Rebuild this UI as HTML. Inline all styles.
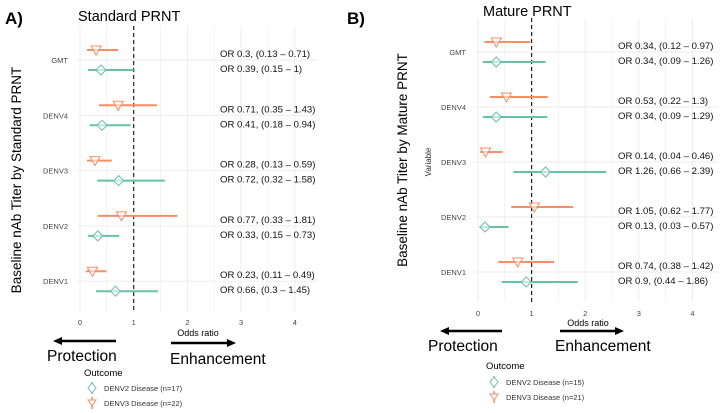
<!DOCTYPE html>
<html><head><meta charset="utf-8"><style>
body{margin:0;background:#fff;}
svg{display:block;font-family:"Liberation Sans",sans-serif;}
</style></head><body>
<svg id="chart" width="720" height="413" viewBox="0 0 720 413" xmlns="http://www.w3.org/2000/svg">
<g id="pa">
<text x="5" y="24" font-size="17" font-weight="bold">A)</text>
<text x="78" y="21" font-size="14.5">Standard PRNT</text>
<text transform="translate(21,180) rotate(-90)" text-anchor="middle" font-size="13.5">Baseline nAb Titer by Standard PRNT</text>
<text x="198" y="336" text-anchor="middle" font-size="9">Odds ratio</text>
<g><line x1="116" y1="341" x2="60" y2="341" stroke="#000" stroke-width="2.5"/><polygon points="53,341 62,337 62,345" fill="#000"/></g>
<g><line x1="171" y1="343" x2="229" y2="343" stroke="#000" stroke-width="2.5"/><polygon points="236,343 227,339 227,347" fill="#000"/></g>
<text x="47" y="361" font-size="15.5">Protection</text>
<text x="170" y="364" font-size="15.5">Enhancement</text>
<text x="84" y="376" font-size="9.5">Outcome</text>
<g><line x1="92" y1="382" x2="92" y2="394" stroke="#66c2a5" stroke-width="1.5"/><polygon points="92,383 96,388 92,393 88,388" fill="#fff" stroke="#66c2a5"/><text x="104" y="391" font-size="7.5" fill="#333">DENV2 Disease (n=17)</text></g>
<g><line x1="92" y1="397" x2="92" y2="409" stroke="#fc8d62" stroke-width="1.5"/><polygon points="88,400 96,400 92,406" fill="#fff" stroke="#fc8d62"/><text x="104" y="406" font-size="7.5" fill="#333">DENV3 Disease (n=22)</text></g>
</g>
<g id="pb">
<text x="347" y="24" font-size="17" font-weight="bold">B)</text>
<text x="483" y="16" font-size="14.5">Mature PRNT</text>
<text transform="translate(407,160) rotate(-90)" text-anchor="middle" font-size="13.5">Baseline nAb Titer by Mature PRNT</text>
<text transform="translate(431,162) rotate(-90)" text-anchor="middle" font-size="8" fill="#333">Variable</text>
<text x="588" y="326" text-anchor="middle" font-size="9">Odds ratio</text>
<g><line x1="502" y1="331" x2="447" y2="331" stroke="#000" stroke-width="2.5"/><polygon points="440,331 449,327 449,335" fill="#000"/></g>
<g><line x1="560" y1="331" x2="617" y2="331" stroke="#000" stroke-width="2.5"/><polygon points="624,331 615,327 615,335" fill="#000"/></g>
<text x="428" y="351" font-size="15.5">Protection</text>
<text x="555" y="351" font-size="15.5">Enhancement</text>
<text x="486" y="369" font-size="9.5">Outcome</text>
<g><line x1="494" y1="376" x2="494" y2="388" stroke="#66c2a5" stroke-width="1.5"/><polygon points="494,377 498,382 494,387 490,382" fill="#fff" stroke="#66c2a5"/><text x="506" y="385" font-size="7.5" fill="#333">DENV2 Disease (n=15)</text></g>
<g><line x1="494" y1="391" x2="494" y2="403" stroke="#fc8d62" stroke-width="1.5"/><polygon points="490,394 498,394 494,400" fill="#fff" stroke="#fc8d62"/><text x="506" y="400" font-size="7.5" fill="#333">DENV3 Disease (n=21)</text></g>
</g>
</svg>
<script>
const categories = ["GMT","DENV4","DENV3","DENV2","DENV1"];
const xTicks = [0,1,2,3,4];
// Panel A
const aDenv3Or = [0.3,0.71,0.28,0.77,0.23];
const aDenv3Lo = [0.13,0.35,0.13,0.33,0.11];
const aDenv3Hi = [0.71,1.43,0.59,1.81,0.49];
const aDenv2Or = [0.39,0.41,0.72,0.33,0.66];
const aDenv2Lo = [0.15,0.18,0.32,0.15,0.3];
const aDenv2Hi = [1,0.94,1.58,0.73,1.45];
// Panel B
const bDenv3Or = [0.34,0.53,0.14,1.05,0.74];
const bDenv3Lo = [0.12,0.22,0.04,0.62,0.38];
const bDenv3Hi = [0.97,1.3,0.46,1.77,1.42];
const bDenv2Or = [0.34,0.34,1.26,0.13,0.9];
const bDenv2Lo = [0.09,0.09,0.66,0.03,0.44];
const bDenv2Hi = [1.26,1.29,2.39,0.57,1.86];

const NS="http://www.w3.org/2000/svg";
function mk(parent,tag,attrs){const e=document.createElementNS(NS,tag);for(const k in attrs)e.setAttribute(k,attrs[k]);parent.appendChild(e);return e;}

function drawPanel(g,p,s3o,s3l,s3h,s2o,s2l,s2h){
  const x=v=>p.x0+v*p.sc;
  const y=i=>p.y0+i*p.dy;
  for(let v=0;v<=4.25;v+=0.5){
    const l=mk(g,'line',{x1:x(v),x2:x(v),y1:p.top,y2:p.bot,stroke:'#ebebeb','stroke-width':v%1===0?0.9:0.6});
    
    
  }
  categories.forEach((c,i)=>{
    const l=mk(g,'line',{x1:p.x0-3,x2:p.right,y1:y(i),y2:y(i),stroke:'#ebebeb','stroke-width':0.9});
    
    
    const t=mk(g,'text',{x:p.x0-12,y:y(i)+3,'text-anchor':'end','font-size':7.5,fill:'#444'});
    t.textContent=c;
    
    
  });
  xTicks.forEach(v=>{
    const t=mk(g,'text',{x:x(v),y:p.tickY,'text-anchor':'middle','font-size':7.5,fill:'#444'});
    t.textContent=v;
    
    
  });
  const ref=mk(g,'line',{x1:x(1),x2:x(1),y1:p.top,y2:p.bot,stroke:'#222','stroke-width':1.2,'stroke-dasharray':'4,3'});
  
  
  categories.forEach((c,i)=>{
    const yo=y(i)-10, yg=y(i)+10;
    const lo=mk(g,'line',{x1:x(s3l[i]),x2:x(s3h[i]),y1:yo,y2:yo,stroke:'#fc8d62','stroke-width':2});
    
    
    const cx=x(s3o[i]);
    const tri=mk(g,'polygon',{points:`${cx-5},${yo-4} ${cx+5},${yo-4} ${cx},${yo+5}`,fill:'#fff','fill-opacity':0.6,stroke:'#fc8d62','stroke-width':1});
    
    
    const lg=mk(g,'line',{x1:x(s2l[i]),x2:x(s2h[i]),y1:yg,y2:yg,stroke:'#66c2a5','stroke-width':2});
    
    
    const gx=x(s2o[i]);
    const d=mk(g,'polygon',{points:`${gx},${yg-5} ${gx+5},${yg} ${gx},${yg+5} ${gx-5},${yg}`,fill:'#fff','fill-opacity':0.6,stroke:'#66c2a5','stroke-width':1});
    
    
    const t1=mk(g,'text',{x:p.labX,y:y(i)-3,'font-size':9.6,fill:'#111'});
    t1.textContent=`OR ${s3o[i]}, (${s3l[i]} – ${s3h[i]})`;
    
    
    const t2=mk(g,'text',{x:p.labX,y:y(i)+12,'font-size':9.6,fill:'#111'});
    t2.textContent=`OR ${s2o[i]}, (${s2l[i]} – ${s2h[i]})`;
    
    
  });
}
const ga=document.getElementById('pa'), gb=document.getElementById('pb');
drawPanel(ga,{x0:80,sc:53.7,y0:60,dy:55.3,top:26,bot:312,right:318,tickY:325,labX:220},aDenv3Or,aDenv3Lo,aDenv3Hi,aDenv2Or,aDenv2Lo,aDenv2Hi);
drawPanel(gb,{x0:478,sc:53.6,y0:52,dy:55,top:18,bot:302,right:718,tickY:316,labX:618},bDenv3Or,bDenv3Lo,bDenv3Hi,bDenv2Or,bDenv2Lo,bDenv2Hi);
</script>
</body></html>
